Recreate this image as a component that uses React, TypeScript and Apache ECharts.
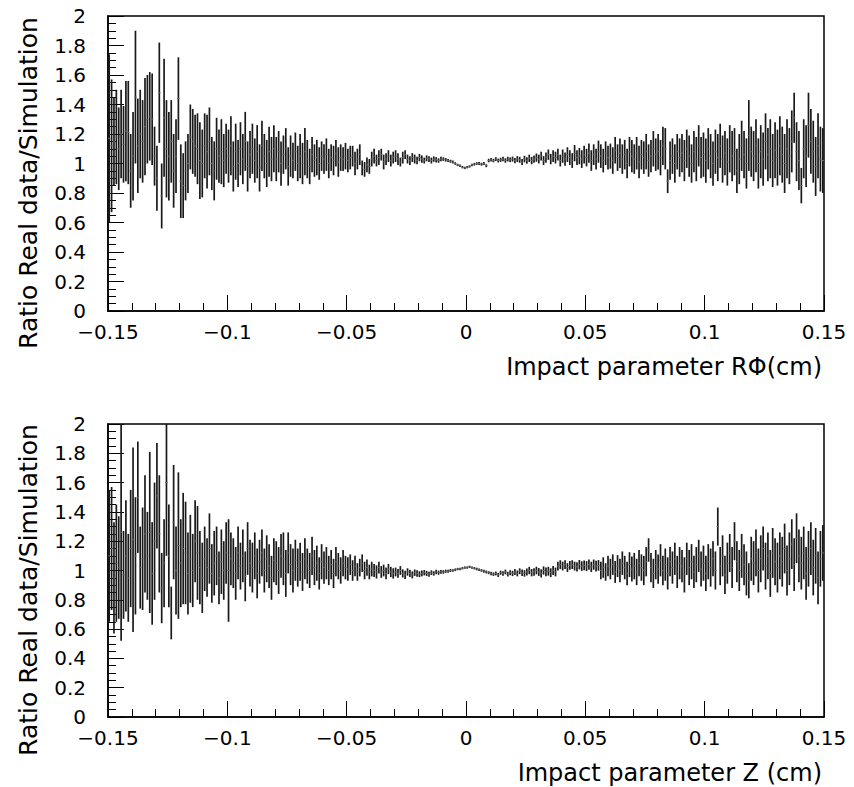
import React, { useEffect, useRef } from "react";
import * as echarts from "echarts";

// Histogram binning: 300 bins from -0.15 to 0.15 cm
const X_MIN = -0.15;
const X_MAX = 0.15;
const BIN_WIDTH = 0.001;

const X_TICKS = [-0.15, -0.1, -0.05, 0, 0.05, 0.1, 0.15];
const Y_TICKS = [0, 0.2, 0.4, 0.6, 0.8, 1, 1.2, 1.4, 1.6, 1.8, 2];

const Y_TITLE = "Ratio Real data/Simulation";
const TOP_X_TITLE = "Impact parameter RΦ(cm)";
const BOT_X_TITLE = "Impact parameter Z (cm)";

// Top panel (R-phi): ratio per bin
const TOP_VALUES = [
  1.17, 1.12, 1.15, 1.18, 1.10, 1.20, 1.13, 1.22, 1.21, 0.95,
  1.05, 1.45, 1.12, 1.20, 1.15, 1.25, 1.30, 1.32, 1.30, 1.05,
  0.90, 1.48, 0.78, 1.31, 1.10, 1.05, 1.15, 0.95, 1.05, 1.44,
  0.88, 0.85, 0.95, 1.00, 1.18, 1.15, 1.12, 1.10, 1.02, 1.00,
  1.12, 1.08, 1.15, 1.00, 0.95, 1.10, 1.05, 1.08, 1.02, 1.10,
  1.05, 1.12, 0.98, 1.08, 1.00, 1.10, 1.03, 1.15, 0.98, 1.06,
  1.10, 1.02, 1.08, 0.97, 1.12, 1.05, 1.00, 1.08, 1.03, 1.10,
  1.03, 1.08, 1.00, 1.06, 1.10, 0.98, 1.05, 1.02, 1.08, 1.00,
  1.05, 1.00, 1.08, 1.03, 0.98, 1.06, 1.02, 1.04, 1.00, 1.05,
  1.03, 1.06, 1.00, 1.04, 1.02, 1.07, 1.01, 1.04, 1.03, 1.05,
  1.02, 1.04, 1.05, 1.00, 1.03, 1.06, 0.97, 0.96, 0.99, 0.98,
  1.03, 1.05, 1.02, 1.04, 1.06, 1.01, 1.03, 1.05, 1.02, 1.04,
  1.05, 1.03, 1.01, 1.04, 1.06, 1.03, 1.02, 1.04, 1.03, 1.02,
  1.04, 1.03, 1.02, 1.035, 1.03, 1.02, 1.03, 1.025, 1.02, 1.03,
  1.03, 1.025, 1.02, 1.015, 1.01, 1.0, 0.99, 0.985, 0.975, 0.97,
  0.975, 0.98, 0.99, 0.995, 1.0, 1.0, 0.995, 1.0, 0.985, 1.02,
  1.025, 1.02, 1.03, 1.02, 1.025, 1.03, 1.02, 1.03, 1.025, 1.03,
  1.02, 1.03, 1.025, 1.01, 1.03, 1.02, 1.035, 1.02, 1.03, 1.04,
  1.03, 1.05, 1.02, 1.04, 1.06, 1.03, 1.05, 1.04, 1.06, 1.02,
  1.05, 1.03, 1.06, 1.04, 1.02, 1.07, 1.04, 1.05, 1.03, 1.06,
  1.04, 1.07, 1.02, 1.06, 1.03, 1.08, 1.05, 1.02, 1.07, 1.04,
  1.05, 1.02, 1.09, 1.04, 1.07, 1.03, 1.06, 1.00, 1.08, 1.05,
  1.03, 1.07, 1.01, 1.06, 1.04, 1.08, 1.02, 1.05, 1.10, 1.06,
  1.08, 1.04, 1.12, 1.10, 0.88, 1.02, 1.05, 1.00, 1.08, 1.04,
  1.07, 1.02, 1.10, 1.05, 1.00, 1.08, 1.03, 1.12, 1.04, 1.06,
  1.02, 1.10, 1.05, 1.00, 1.08, 1.04, 1.12, 1.03, 1.07, 1.01,
  1.10, 1.05, 1.08, 0.95, 1.03, 1.12, 1.06, 1.00, 1.19, 1.08,
  1.05, 1.12, 1.00, 1.08, 1.03, 1.15, 1.06, 1.10, 1.02, 1.09,
  1.04, 1.12, 1.06, 1.00, 1.10, 1.05, 1.15, 1.31, 1.08, 1.02,
  0.85, 1.10, 1.05, 1.26, 1.15, 1.08, 0.98, 1.12, 1.03, 1.02,
];

const TOP_ERRORS = [
  0.57, 0.45, 0.30, 0.32, 0.28, 0.30, 0.26, 0.34, 0.35, 0.25,
  0.30, 0.45, 0.32, 0.30, 0.28, 0.33, 0.30, 0.30, 0.31, 0.20,
  0.22, 0.34, 0.22, 0.40, 0.33, 0.30, 0.28, 0.25, 0.25, 0.28,
  0.25, 0.22, 0.20, 0.20, 0.22, 0.22, 0.21, 0.24, 0.26, 0.23,
  0.22, 0.25, 0.23, 0.18, 0.20, 0.21, 0.18, 0.22, 0.18, 0.17,
  0.18, 0.20, 0.17, 0.19, 0.16, 0.18, 0.17, 0.20, 0.17, 0.16,
  0.17, 0.15, 0.18, 0.16, 0.17, 0.15, 0.16, 0.17, 0.15, 0.16,
  0.15, 0.14, 0.15, 0.13, 0.14, 0.13, 0.14, 0.12, 0.13, 0.12,
  0.15, 0.14, 0.16, 0.13, 0.12, 0.12, 0.11, 0.12, 0.11, 0.10,
  0.10, 0.11, 0.10, 0.09, 0.10, 0.09, 0.10, 0.09, 0.08, 0.09,
  0.08, 0.08, 0.07, 0.08, 0.07, 0.07, 0.05, 0.05, 0.05, 0.05,
  0.05, 0.05, 0.04, 0.05, 0.04, 0.05, 0.04, 0.04, 0.04, 0.04,
  0.04, 0.04, 0.03, 0.04, 0.03, 0.03, 0.03, 0.03, 0.03, 0.025,
  0.025, 0.025, 0.02, 0.02, 0.02, 0.02, 0.018, 0.018, 0.015, 0.015,
  0.012, 0.012, 0.01, 0.01, 0.01, 0.009, 0.008, 0.008, 0.008, 0.008,
  0.008, 0.008, 0.008, 0.009, 0.009, 0.01, 0.01, 0.01, 0.01, 0.012,
  0.012, 0.012, 0.013, 0.013, 0.014, 0.015, 0.015, 0.016, 0.016, 0.017,
  0.018, 0.02, 0.02, 0.02, 0.022, 0.022, 0.025, 0.025, 0.025, 0.028,
  0.03, 0.03, 0.03, 0.035, 0.035, 0.035, 0.04, 0.04, 0.04, 0.04,
  0.045, 0.045, 0.05, 0.05, 0.05, 0.055, 0.05, 0.055, 0.06, 0.06,
  0.06, 0.065, 0.07, 0.07, 0.07, 0.075, 0.08, 0.08, 0.08, 0.08,
  0.085, 0.09, 0.09, 0.09, 0.10, 0.10, 0.10, 0.10, 0.10, 0.11,
  0.10, 0.11, 0.11, 0.10, 0.11, 0.12, 0.11, 0.11, 0.12, 0.11,
  0.12, 0.12, 0.13, 0.14, 0.08, 0.13, 0.12, 0.13, 0.12, 0.13,
  0.13, 0.14, 0.13, 0.14, 0.13, 0.14, 0.15, 0.14, 0.14, 0.15,
  0.15, 0.14, 0.15, 0.15, 0.15, 0.16, 0.15, 0.16, 0.15, 0.16,
  0.16, 0.17, 0.16, 0.15, 0.17, 0.17, 0.16, 0.17, 0.24, 0.17,
  0.17, 0.18, 0.17, 0.18, 0.18, 0.19, 0.18, 0.20, 0.18, 0.19,
  0.19, 0.20, 0.19, 0.20, 0.20, 0.19, 0.21, 0.17, 0.20, 0.20,
  0.12, 0.20, 0.21, 0.22, 0.22, 0.21, 0.20, 0.22, 0.22, 0.22,
];

// Bottom panel (Z): ratio per bin
const BOT_VALUES = [
  1.10, 1.15, 0.95, 1.05, 1.02, 1.26, 0.97, 1.10, 0.95, 1.15,
  1.21, 1.10, 1.50, 1.02, 1.08, 1.25, 1.10, 1.26, 0.98, 1.20,
  1.51, 1.25, 0.88, 1.05, 1.60, 1.10, 0.71, 1.33, 1.00, 1.17,
  1.05, 1.15, 1.12, 0.98, 1.08, 1.00, 1.20, 1.12, 1.02, 0.95,
  1.08, 1.02, 1.15, 0.98, 1.05, 1.10, 0.95, 1.06, 1.00, 1.12,
  1.00, 1.08, 1.05, 0.98, 1.12, 1.03, 1.10, 0.96, 1.15, 1.05,
  1.02, 1.10, 0.98, 1.06, 1.12, 1.00, 1.08, 1.03, 0.95, 1.07,
  1.05, 1.00, 1.10, 1.08, 0.98, 1.12, 1.04, 1.00, 1.07, 1.02,
  1.06, 0.99, 1.08, 1.03, 1.00, 1.10, 1.02, 1.05, 0.98, 1.06,
  1.02, 1.05, 1.00, 1.04, 0.98, 1.06, 1.03, 1.00, 1.05, 1.02,
  1.01, 1.04, 1.00, 1.03, 0.99, 1.02, 1.05, 1.00, 1.02, 0.99,
  1.01, 1.00, 0.99, 1.02, 0.99, 1.00, 0.98, 1.01, 0.99, 0.98,
  0.99, 0.98, 1.00, 0.98, 0.97, 0.99, 0.98, 0.97, 0.985, 0.98,
  0.975, 0.98, 0.985, 0.98, 0.975, 0.985, 0.98, 0.99, 0.985, 0.99,
  0.99, 0.995, 0.995, 1.0, 1.0, 1.005, 1.01, 1.01, 1.015, 1.02,
  1.02, 1.025, 1.02, 1.015, 1.01, 1.005, 1.0, 0.995, 0.99, 0.985,
  0.98, 0.975, 0.98, 0.97, 0.985, 0.98, 0.99, 0.975, 0.985, 0.98,
  0.99, 0.98, 0.995, 0.985, 0.98, 0.99, 1.0, 0.985, 0.99, 1.0,
  0.99, 0.98, 1.0, 0.99, 0.995, 0.985, 1.0, 0.99, 1.03, 1.04,
  1.03, 1.04, 1.02, 1.035, 1.04, 1.03, 1.025, 1.04, 1.03, 1.035,
  1.03, 1.04, 1.025, 1.04, 1.03, 1.035, 1.00, 1.02, 0.99, 1.03,
  1.01, 1.04, 0.99, 1.03, 1.00, 1.05, 1.02, 0.98, 1.04, 1.01,
  1.03, 0.99, 1.05, 1.02, 1.00, 1.06, 1.14, 1.02, 0.98, 1.04,
  1.01, 1.07, 1.00, 1.04, 0.98, 1.06, 1.02, 1.08, 0.99, 1.05,
  1.03, 0.97, 1.08, 1.02, 1.06, 0.99, 1.04, 1.10, 1.01, 1.05,
  0.98, 1.06, 1.02, 1.08, 1.00, 1.30, 1.03, 1.10, 0.97, 1.05,
  1.12, 1.02, 1.20, 1.06, 1.00, 1.10, 1.04, 0.98, 0.93, 1.08,
  1.05, 1.12, 1.00, 1.08, 1.15, 1.03, 1.10, 0.98, 1.12, 1.06,
  1.02, 1.10, 1.06, 1.15, 1.00, 1.08, 1.18, 1.04, 1.22, 1.10,
  1.05, 1.12, 0.98, 1.08, 1.15, 1.02, 1.10, 0.95, 1.08, 1.12,
];

const BOT_ERRORS = [
  0.45, 0.42, 0.38, 0.40, 0.35, 0.74, 0.30, 0.38, 0.30, 0.40,
  0.63, 0.40, 0.38, 0.28, 0.35, 0.40, 0.30, 0.55, 0.35, 0.40,
  0.36, 0.40, 0.24, 0.30, 0.50, 0.35, 0.18, 0.39, 0.30, 0.50,
  0.30, 0.38, 0.35, 0.28, 0.30, 0.25, 0.28, 0.32, 0.25, 0.24,
  0.22, 0.20, 0.24, 0.20, 0.22, 0.20, 0.18, 0.22, 0.20, 0.21,
  0.35, 0.18, 0.17, 0.18, 0.18, 0.16, 0.18, 0.17, 0.18, 0.16,
  0.17, 0.16, 0.17, 0.15, 0.16, 0.15, 0.16, 0.15, 0.15, 0.15,
  0.15, 0.16, 0.15, 0.18, 0.16, 0.14, 0.14, 0.15, 0.14, 0.13,
  0.13, 0.13, 0.14, 0.12, 0.12, 0.13, 0.12, 0.12, 0.11, 0.12,
  0.11, 0.11, 0.10, 0.10, 0.10, 0.10, 0.09, 0.09, 0.09, 0.08,
  0.08, 0.07, 0.07, 0.07, 0.06, 0.06, 0.06, 0.06, 0.055, 0.05,
  0.05, 0.045, 0.045, 0.04, 0.04, 0.04, 0.04, 0.035, 0.035, 0.035,
  0.03, 0.03, 0.03, 0.028, 0.028, 0.025, 0.025, 0.024, 0.022, 0.022,
  0.02, 0.02, 0.018, 0.018, 0.017, 0.016, 0.015, 0.015, 0.014, 0.013,
  0.012, 0.011, 0.01, 0.01, 0.009, 0.009, 0.008, 0.008, 0.008, 0.008,
  0.008, 0.008, 0.008, 0.008, 0.009, 0.009, 0.009, 0.01, 0.01, 0.01,
  0.012, 0.012, 0.013, 0.014, 0.014, 0.015, 0.016, 0.016, 0.017, 0.018,
  0.02, 0.02, 0.02, 0.022, 0.022, 0.024, 0.025, 0.025, 0.026, 0.026,
  0.027, 0.028, 0.028, 0.03, 0.03, 0.03, 0.03, 0.03, 0.03, 0.03,
  0.03, 0.03, 0.03, 0.03, 0.03, 0.03, 0.032, 0.032, 0.033, 0.033,
  0.034, 0.035, 0.035, 0.035, 0.036, 0.036, 0.06, 0.07, 0.06, 0.07,
  0.07, 0.07, 0.075, 0.075, 0.08, 0.08, 0.08, 0.08, 0.085, 0.085,
  0.09, 0.09, 0.09, 0.09, 0.10, 0.10, 0.08, 0.10, 0.10, 0.10,
  0.10, 0.11, 0.10, 0.11, 0.11, 0.10, 0.11, 0.11, 0.11, 0.11,
  0.11, 0.12, 0.11, 0.12, 0.12, 0.11, 0.12, 0.11, 0.12, 0.12,
  0.12, 0.12, 0.13, 0.12, 0.13, 0.13, 0.13, 0.14, 0.13, 0.14,
  0.13, 0.14, 0.13, 0.14, 0.14, 0.15, 0.14, 0.15, 0.12, 0.15,
  0.15, 0.16, 0.15, 0.16, 0.15, 0.16, 0.16, 0.16, 0.17, 0.16,
  0.17, 0.16, 0.17, 0.17, 0.17, 0.18, 0.17, 0.18, 0.17, 0.18,
  0.18, 0.18, 0.18, 0.19, 0.18, 0.19, 0.19, 0.18, 0.19, 0.19,
];

const FONT = "DejaVu Sans";

function buildData(values: number[], errors: number[]) {
  return values.map((v, i) => [X_MIN + (i + 0.5) * BIN_WIDTH, v, errors[i]]);
}

function fmtX(v: number) {
  if (Math.abs(v) < 1e-9) return "0";
  return String(+v.toFixed(2)).replace("-", "\u2212");
}
function fmtY(v: number) {
  return String(+v.toFixed(1));
}

const renderErrorBar = (params: any, api: any) => {
  const x = api.value(0);
  const v = api.value(1);
  const e = api.value(2);
  const top = api.coord([x, v + e]);
  const bot = api.coord([x, v - e]);
  const l = api.coord([x - BIN_WIDTH / 2, v]);
  const r = api.coord([x + BIN_WIDTH / 2, v]);
  return {
    type: "group",
    children: [
      {
        type: "line",
        shape: { x1: top[0], y1: top[1], x2: bot[0], y2: bot[1] },
        style: { stroke: "#1a1a1a", lineWidth: 1.7 },
      },
      {
        type: "line",
        shape: { x1: l[0], y1: l[1], x2: r[0], y2: r[1] },
        style: { stroke: "#666", lineWidth: 1 },
      },
    ],
  };
};

function xAxisCfg(gridIndex: number) {
  return {
    type: "value",
    gridIndex,
    min: X_MIN,
    max: X_MAX,
    interval: 0.05,
    axisLine: { show: true, onZero: false, lineStyle: { color: "#000", width: 1.5 } },
    axisTick: { show: true, inside: true, length: 16, lineStyle: { color: "#000", width: 1 } },
    minorTick: { show: true, splitNumber: 5, length: 8, lineStyle: { color: "#000", width: 1 } },
    splitLine: { show: false },
    minorSplitLine: { show: false },
    axisLabel: {
      formatter: fmtX,
      fontFamily: FONT,
      fontSize: 20,
      lineHeight: 18,
      color: "#000",
      margin: 12,
      showMinLabel: true,
      showMaxLabel: true,
    },
  };
}

function yAxisCfg(gridIndex: number) {
  return {
    type: "value",
    gridIndex,
    min: 0,
    max: 2,
    interval: 0.2,
    axisLine: { show: true, onZero: false, lineStyle: { color: "#000", width: 1.5 } },
    axisTick: { show: true, inside: true, length: 16, lineStyle: { color: "#000", width: 1 } },
    minorTick: { show: true, splitNumber: 4, length: 8, lineStyle: { color: "#000", width: 1 } },
    splitLine: { show: false },
    minorSplitLine: { show: false },
    axisLabel: {
      formatter: fmtY,
      fontFamily: FONT,
      fontSize: 20,
      lineHeight: 16,
      color: "#000",
      margin: 22,
      showMinLabel: true,
      showMaxLabel: true,
    },
  };
}

export default function App() {
  const ref = useRef<HTMLDivElement>(null);

  useEffect(() => {
    document.body.style.margin = "0";
    if (!ref.current) return;
    const chart = echarts.init(ref.current, undefined, { renderer: "svg" });
    const titleStyle = {
      fontFamily: FONT,
      fill: "#000",
    };
    chart.setOption({
      animation: false,
      backgroundColor: "#fff",
      grid: [
        { left: 108, top: 16, width: 716, height: 295, show: true, borderColor: "#000", borderWidth: 1.5, backgroundColor: "transparent" },
        { left: 108, top: 424, width: 716, height: 293, show: true, borderColor: "#000", borderWidth: 1.5, backgroundColor: "transparent" },
      ],
      xAxis: [xAxisCfg(0), xAxisCfg(1)],
      yAxis: [yAxisCfg(0), yAxisCfg(1)],
      series: [
        {
          type: "custom",
          xAxisIndex: 0,
          yAxisIndex: 0,
          clip: true,
          renderItem: renderErrorBar,
          data: buildData(TOP_VALUES, TOP_ERRORS),
        },
        {
          type: "custom",
          xAxisIndex: 1,
          yAxisIndex: 1,
          clip: true,
          renderItem: renderErrorBar,
          data: buildData(BOT_VALUES, BOT_ERRORS),
        },
      ],
      graphic: [
        {
          type: "text",
          x: 28,
          y: 183,
          rotation: Math.PI / 2,
          style: { ...titleStyle, text: Y_TITLE, fontSize: 25, textAlign: "center", textVerticalAlign: "middle" },
        },
        {
          type: "text",
          x: 28,
          y: 590,
          rotation: Math.PI / 2,
          style: { ...titleStyle, text: Y_TITLE, fontSize: 25, textAlign: "center", textVerticalAlign: "middle" },
        },
        {
          type: "text",
          x: 822,
          y: 367,
          style: { ...titleStyle, text: TOP_X_TITLE, fontSize: 24, textAlign: "right", textVerticalAlign: "middle" },
        },
        {
          type: "text",
          x: 822,
          y: 773,
          style: { ...titleStyle, text: BOT_X_TITLE, fontSize: 24, textAlign: "right", textVerticalAlign: "middle" },
        },
      ],
    });
    return () => chart.dispose();
  }, []);

  return <div ref={ref} style={{ width: 854, height: 787 }} />;
}
